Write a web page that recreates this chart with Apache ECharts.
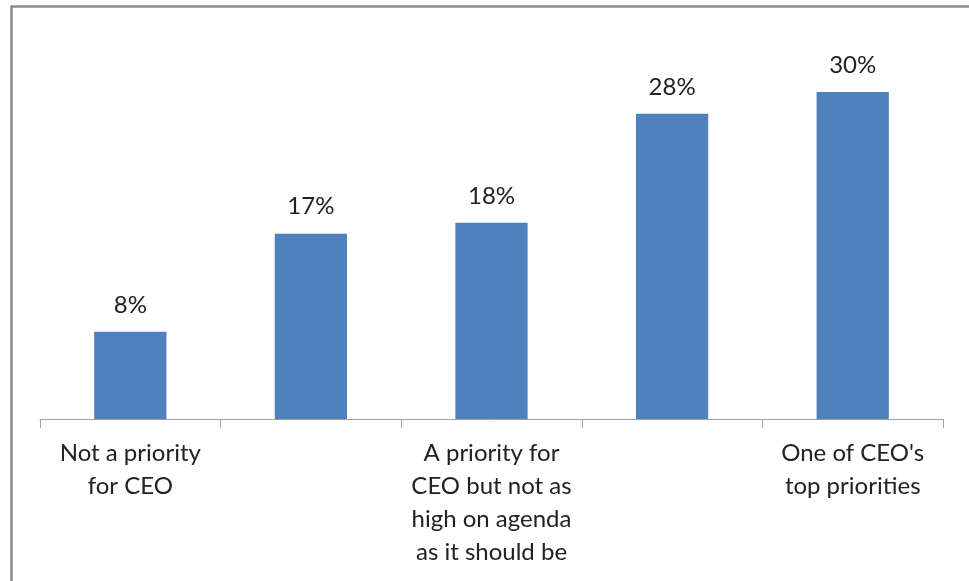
<!DOCTYPE html>
<html>
<head>
<meta charset="utf-8">
<script src="https://cdn.jsdelivr.net/npm/echarts@6/dist/echarts.min.js"></script>
<style>
  html, body { margin: 0; padding: 0; background: #fff; }
  #chart { width: 969px; height: 581px; }
</style>
</head>
<body>
<div id="chart"></div>
<script>
// categories (2nd and 4th labels are not shown in the picture)
var categories = [
  'Not a priority\nfor CEO',
  '',
  'A priority for\nCEO but not as\nhigh on agenda\nas it should be',
  '',
  "One of CEO's\ntop priorities"
]
var shares = [8, 17, 18, 28, 30]
var yMax = 35

var chart = echarts.init(document.getElementById('chart'))
var option = {
  animation: false,
  backgroundColor: '#fff',
  textStyle: { fontFamily: 'Lato, "Open Sans", sans-serif' },
  graphic: [{
    // chart frame: only top and left edges are visible in the crop
    type: 'rect',
    shape: { x: 11.5, y: 6.5, width: 1100, height: 700 },
    style: { fill: 'none', stroke: '#8c8c8c', lineWidth: 2.5 },
    silent: true
  }],
  grid: { left: 40, right: 26, top: 37.5, bottom: 162 },
  xAxis: {
    type: 'category',
    data: categories,
    axisLine: { lineStyle: { color: '#a0a0a0', width: 1 } },
    axisTick: { show: true, length: 9, lineStyle: { color: '#a0a0a0' } },
    axisLabel: {
      interval: 0,
      margin: 18,
      color: '#222',
      fontSize: 24,
      lineHeight: 33,
      fontFamily: 'Lato, "Open Sans", sans-serif'
    }
  },
  yAxis: {
    type: 'value',
    min: 0,
    max: yMax,
    show: false,
    splitLine: { show: false }
  },
  series: [{
    type: 'bar',
    data: shares,
    barWidth: '40%',
    itemStyle: { color: '#4F81BD' },
    label: {
      show: true,
      position: 'top',
      distance: 15,
      formatter: '{c}%',
      color: '#222',
      fontSize: 24,
      fontFamily: 'Lato, "Open Sans", sans-serif'
    }
  }]
}
chart.setOption(option)
</script>
</body>
</html>
